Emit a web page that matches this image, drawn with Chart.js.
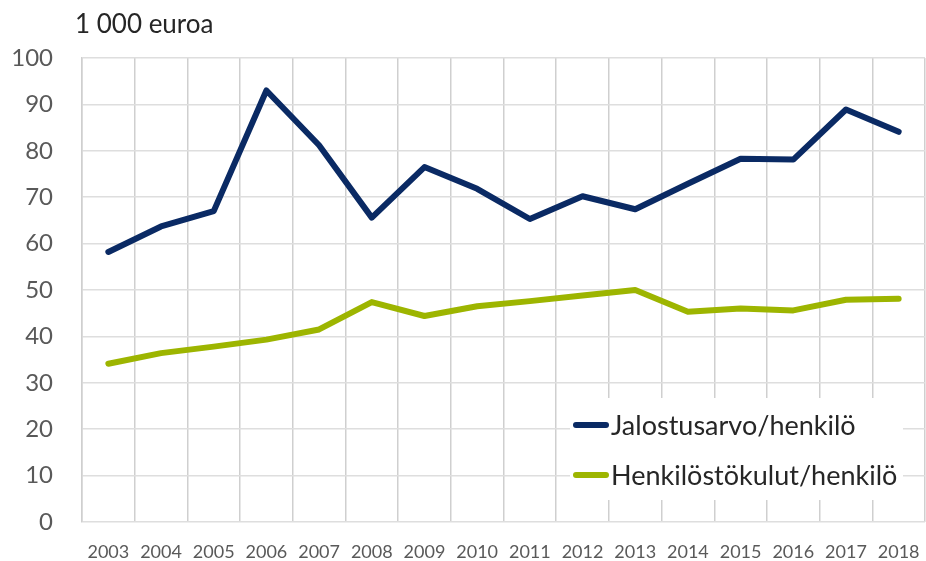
<!DOCTYPE html>
<html lang="fi">
<head>
<meta charset="utf-8">
<script src="https://cdn.jsdelivr.net/npm/chart.js@4.4.1/dist/chart.umd.min.js"></script>
<style>
    html, body { margin: 0; padding: 0; background: #ffffff; }
    #wrap { position: relative; width: 926px; height: 561px; }
</style>
</head>
<body>
<div id="wrap"><canvas id="chart" width="926" height="561"></canvas></div>
<script>
// Data (1 000 euroa)
const years = ['2003', '2004', '2005', '2006', '2007', '2008', '2009', '2010',
               '2011', '2012', '2013', '2014', '2015', '2016', '2017', '2018'];
const jalostusarvo = [58.2, 63.7, 67.0, 93.0, 81.2, 65.6, 76.5, 71.8,
                      65.3, 70.2, 67.4, 72.9, 78.3, 78.1, 88.9, 84.1];
const henkilostokulut = [34.1, 36.4, 37.8, 39.3, 41.5, 47.4, 44.4, 46.5,
                         47.6, 48.8, 50.0, 45.3, 46.0, 45.6, 47.9, 48.1];
const yTicks = [0, 10, 20, 30, 40, 50, 60, 70, 80, 90, 100];
const unitLabel = '1 000 euroa';

const colorNavy = '#0a2a64';
const colorGreen = '#9db500';
const textGrey = '#595959';
const fontFamily = 'Lato, "Open Sans", sans-serif';

// Title above the axis
const unitTitle = {
    id: 'unitTitle',
    afterDraw(chart) {
        const ctx = chart.ctx;
        ctx.save();
        ctx.fillStyle = '#262626';
        ctx.font = `26px ${fontFamily}`;
        ctx.textAlign = 'left';
        ctx.textBaseline = 'middle';
        ctx.fillText(unitLabel, chart.chartArea.left - 7, 25);
        ctx.restore();
    }
};

// Legend drawn inside the plot area, bottom right, on a white box
const innerLegend = {
    id: 'innerLegend',
    afterDatasetsDraw(chart) {
        const ctx = chart.ctx;
        const area = chart.chartArea;
        const right = area.right - 22;
        const bottom = area.bottom - 22;
        const width = 333;
        const height = 102;
        const left = right - width;
        const top = bottom - height;
        ctx.save();
        ctx.fillStyle = '#ffffff';
        ctx.fillRect(left, top, width, height);
        ctx.font = `27px ${fontFamily}`;
        ctx.textBaseline = 'middle';
        ctx.textAlign = 'left';
        chart.data.datasets.forEach((ds, i) => {
            const y = top + 27 + i * 50;
            ctx.strokeStyle = ds.borderColor;
            ctx.lineWidth = 6;
            ctx.lineCap = 'round';
            ctx.beginPath();
            ctx.moveTo(left + 6, y);
            ctx.lineTo(left + 36, y);
            ctx.stroke();
            ctx.fillStyle = '#262626';
            ctx.fillText(ds.label, left + 41, y + 1);
        });
        ctx.restore();
    }
};

const ctx = document.getElementById('chart').getContext('2d');
new Chart(ctx, {
    type: 'line',
    data: {
        labels: years,
        datasets: [
            {
                label: 'Jalostusarvo/henkilö',
                data: jalostusarvo,
                borderColor: colorNavy,
                backgroundColor: colorNavy,
                borderWidth: 6,
                borderJoinStyle: 'round',
                borderCapStyle: 'round',
                pointRadius: 0,
                tension: 0
            },
            {
                label: 'Henkilöstökulut/henkilö',
                data: henkilostokulut,
                borderColor: colorGreen,
                backgroundColor: colorGreen,
                borderWidth: 6,
                borderJoinStyle: 'round',
                borderCapStyle: 'round',
                pointRadius: 0,
                tension: 0
            }
        ]
    },
    options: {
        responsive: false,
        animation: false,
        layout: {
            padding: { top: 58, right: 1, bottom: 0, left: 0 }
        },
        plugins: {
            legend: { display: false },
            tooltip: { enabled: false },
            title: { display: false }
        },
        scales: {
            x: {
                type: 'category',
                offset: true,
                grid: {
                    offset: true,
                    color: '#cfcfcf',
                    lineWidth: 1.5,
                    drawTicks: false
                },
                border: { display: false },
                ticks: {
                    color: textGrey,
                    font: { family: fontFamily, size: 18 },
                    padding: 19,
                    maxRotation: 0,
                    autoSkip: false
                },
                afterFit: (scale) => {
                    scale.height = 39;
                    scale.paddingLeft = 0;
                    scale.paddingRight = 0;
                }
            },
            y: {
                min: 0,
                max: 100,
                afterBuildTicks: (scale) => {
                    scale.ticks = yTicks.map(v => ({ value: v }));
                },
                grid: {
                    color: '#dedede',
                    lineWidth: 1.5,
                    drawTicks: false
                },
                border: { display: true, color: '#cfcfcf', width: 1.5 },
                ticks: {
                    color: textGrey,
                    font: { family: fontFamily, size: 24 },
                    padding: 29
                },
                afterFit: (scale) => {
                    scale.width = 82;
                    scale.paddingTop = 0;
                    scale.paddingBottom = 0;
                }
            }
        }
    },
    plugins: [unitTitle, innerLegend]
});
</script>
</body>
</html>
